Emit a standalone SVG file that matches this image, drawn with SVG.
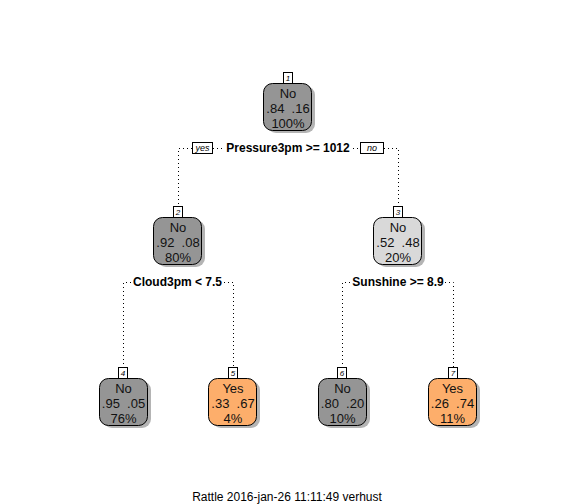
<svg xmlns="http://www.w3.org/2000/svg" width="576" height="504" viewBox="0 0 576 504">
<defs>
<style>
.nt{font-family:"Liberation Sans",Arial,sans-serif;font-size:13px;fill:#111;text-anchor:middle;white-space:pre}
.sp{font-family:"Liberation Sans",Arial,sans-serif;font-size:12px;font-weight:bold;fill:#000;text-anchor:middle}
.num{font-family:"Liberation Sans",Arial,sans-serif;font-size:8px;font-style:italic;fill:#000;text-anchor:middle}
.yn{font-family:"Liberation Sans",Arial,sans-serif;font-size:9px;font-style:italic;fill:#000;text-anchor:middle}
.box{stroke:#000;stroke-width:1}
.sh{fill:#b4b4b4}
.lb{fill:#fff;stroke:#000;stroke-width:1}
.dl{fill:none;stroke:#000;stroke-width:1;stroke-dasharray:1,3}
.g1{fill:#959595}
.g2{fill:#d9d9d9}
.or{fill:#fdae6b}
.ft{font-family:"Liberation Sans",Arial,sans-serif;font-size:12px;fill:#000;text-anchor:middle}
</style>
</defs>
<rect width="576" height="504" fill="#fff"/>
<g id="connectors">
<path class="dl" d="M178.5,208 V148.5 H192 M213,148.5 H223 M353,148.5 H360 M384,148.5 H398.5 V208"/>
<path class="dl" d="M123.5,368 V282.5 H131 M224,282.5 H233.5 V368"/>
<path class="dl" d="M342.5,368 V282.5 H351 M445,282.5 H453.5 V368"/>
</g>
<g id="split1">
<rect class="lb" x="192.5" y="142.5" width="20" height="11"/>
<text class="yn" x="202.5" y="151">yes</text>
<text class="sp" x="288" y="152">Pressure3pm &gt;= 1012</text>
<rect class="lb" x="360.5" y="142.5" width="23" height="11"/>
<text class="yn" x="372" y="151">no</text>
</g>
<g id="split2"><text class="sp" x="177.5" y="286">Cloud3pm &lt; 7.5</text></g>
<g id="split3"><text class="sp" x="398" y="286">Sunshine &gt;= 8.9</text></g>
<g id="node1">
<rect class="sh" x="267" y="86" width="48" height="47" rx="9"/>
<rect class="box g1" x="263.5" y="83.5" width="48" height="47" rx="9"/>
<rect class="lb" x="283.5" y="72.5" width="9" height="11"/>
<text class="num" x="288" y="81">1</text>
<text class="nt" x="288" y="98">No</text>
<text class="nt" x="288" y="113" xml:space="preserve">.84  .16</text>
<text class="nt" x="288" y="128">100%</text>
</g>
<g id="node2">
<rect class="sh" x="157" y="220" width="48" height="47" rx="9"/>
<rect class="box g1" x="153.5" y="217.5" width="48" height="47" rx="9"/>
<rect class="lb" x="173.5" y="206.5" width="9" height="11"/>
<text class="num" x="178" y="215">2</text>
<text class="nt" x="178" y="232">No</text>
<text class="nt" x="178" y="247" xml:space="preserve">.92  .08</text>
<text class="nt" x="178" y="262">80%</text>
</g>
<g id="node3">
<rect class="sh" x="377" y="220" width="48" height="47" rx="9"/>
<rect class="box g2" x="373.5" y="217.5" width="48" height="47" rx="9"/>
<rect class="lb" x="393.5" y="206.5" width="9" height="11"/>
<text class="num" x="398" y="215">3</text>
<text class="nt" x="398" y="232">No</text>
<text class="nt" x="398" y="247" xml:space="preserve">.52  .48</text>
<text class="nt" x="398" y="262">20%</text>
</g>
<g id="node4">
<rect class="sh" x="103" y="381" width="48" height="47" rx="9"/>
<rect class="box g1" x="99.5" y="378.5" width="48" height="47" rx="9"/>
<rect class="lb" x="118.5" y="367.5" width="9" height="11"/>
<text class="num" x="123" y="376">4</text>
<text class="nt" x="123.5" y="393">No</text>
<text class="nt" x="123.5" y="408" xml:space="preserve">.95  .05</text>
<text class="nt" x="123.5" y="423">76%</text>
</g>
<g id="node5">
<rect class="sh" x="212" y="381" width="48" height="47" rx="9"/>
<rect class="box or" x="208.5" y="378.5" width="48" height="47" rx="9"/>
<rect class="lb" x="228.5" y="367.5" width="9" height="11"/>
<text class="num" x="233" y="376">5</text>
<text class="nt" x="233" y="393">Yes</text>
<text class="nt" x="233" y="408" xml:space="preserve">.33  .67</text>
<text class="nt" x="233" y="423">4%</text>
</g>
<g id="node6">
<rect class="sh" x="322" y="381" width="48" height="47" rx="9"/>
<rect class="box g1" x="318.5" y="378.5" width="48" height="47" rx="9"/>
<rect class="lb" x="337.5" y="367.5" width="9" height="11"/>
<text class="num" x="342" y="376">6</text>
<text class="nt" x="342.5" y="393">No</text>
<text class="nt" x="342.5" y="408" xml:space="preserve">.80  .20</text>
<text class="nt" x="342.5" y="423">10%</text>
</g>
<g id="node7">
<rect class="sh" x="432" y="381" width="48" height="47" rx="9"/>
<rect class="box or" x="428.5" y="378.5" width="48" height="47" rx="9"/>
<rect class="lb" x="448.5" y="367.5" width="9" height="11"/>
<text class="num" x="453" y="376">7</text>
<text class="nt" x="452.5" y="393">Yes</text>
<text class="nt" x="452.5" y="408" xml:space="preserve">.26  .74</text>
<text class="nt" x="452.5" y="423">11%</text>
</g>
<text class="ft" x="287" y="501">Rattle 2016-jan-26 11:11:49 verhust</text>
</svg>
